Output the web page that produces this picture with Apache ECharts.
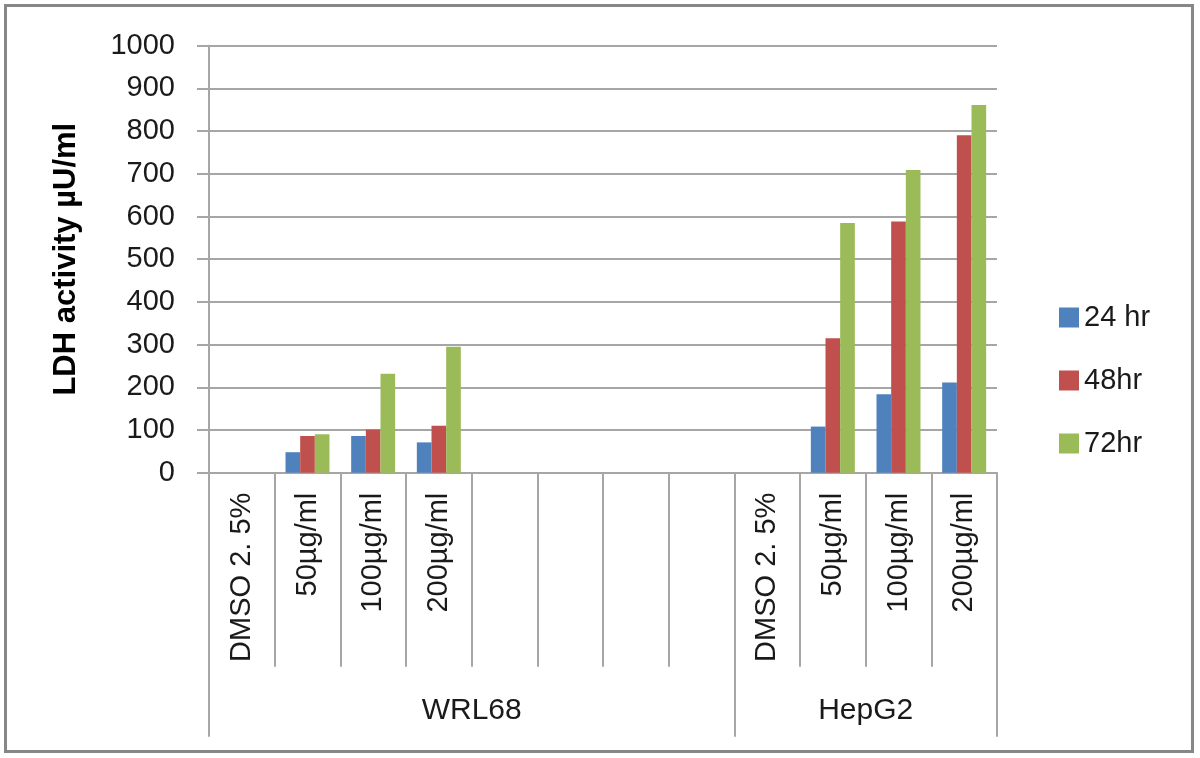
<!DOCTYPE html>
<html>
<head>
<meta charset="utf-8">
<script src="https://cdn.jsdelivr.net/npm/echarts@6/dist/echarts.min.js"></script>
<style>
  html, body { margin: 0; padding: 0; background: #fff; }
  #chart { width: 1200px; height: 758px; }
  #frame { position: absolute; left: 4px; top: 4px; width: 1184px; height: 743px; border: 3px solid #878787; pointer-events: none; }
</style>
</head>
<body>
<div id="chart"></div>
<div id="frame"></div>
<script>
// ---- data ----
const categories = ['DMSO 2. 5%', '50µg/ml', '100µg/ml', '200µg/ml', '', '', '', '',
                    'DMSO 2. 5%', '50µg/ml', '100µg/ml', '200µg/ml'];
const groupNames = ['WRL68', 'HepG2'];
const groupSizes = [8, 4];
const seriesNames = ['24 hr', '48hr', '72hr'];
const hr24 = [0, 48, 86, 71, null, null, null, null, 0, 108, 184, 211];
const hr48 = [0, 86, 101, 110, null, null, null, null, 0, 315, 588, 790];
const hr72 = [0, 90, 232, 295, null, null, null, null, 0, 585, 709, 861];
const yTicks = [0, 100, 200, 300, 400, 500, 600, 700, 800, 900, 1000];
const yTitle = 'LDH activity µU/ml';

// ---- derived group positions ----
const groupBounds = [0];
groupSizes.forEach(s => groupBounds.push(groupBounds[groupBounds.length - 1] + s));
const groupCenters = groupNames.map((n, i) => (groupBounds[i] + groupBounds[i + 1]) / 2);

const colors = ['#4F81BD', '#C0504D', '#9BBB59'];
const gray = '#A6A6A6';
const textColor = '#1a1a1a';
const font = 'Liberation Sans, Arial, sans-serif';

const chart = echarts.init(document.getElementById('chart'));
chart.setOption({
  animation: false,
  color: colors,
  grid: { left: 209, right: 203, top: 45.7, bottom: 285.3, containLabel: false },
  legend: {
    orient: 'vertical',
    left: 1054,
    top: 298,
    itemWidth: 20,
    itemHeight: 20,
    itemGap: 34,
    itemTextGap: 9,
    icon: 'rect',
    textStyle: { fontSize: 29, color: textColor, fontFamily: font },
    data: seriesNames
  },
  xAxis: [
    {
      type: 'category',
      data: categories,
      boundaryGap: true,
      axisLine: { show: true, lineStyle: { color: gray, width: 2 } },
      axisTick: { show: true, interval: 0, length: 194, lineStyle: { color: gray, width: 2 } },
      axisLabel: { interval: 0, rotate: 90, margin: 20, fontSize: 29, color: textColor, fontFamily: font },
      splitLine: { show: false }
    },
    {
      type: 'value',
      position: 'bottom',
      min: groupBounds[0],
      max: groupBounds[groupBounds.length - 1],
      axisLine: { show: false },
      splitLine: { show: false },
      axisTick: { show: true, customValues: groupBounds, length: 264, lineStyle: { color: gray, width: 2 } },
      axisLabel: {
        customValues: groupCenters,
        margin: 223,
        fontSize: 30,
        color: textColor,
        fontFamily: font,
        formatter: v => {
          const i = groupCenters.indexOf(v);
          return i >= 0 ? groupNames[i] : '';
        }
      }
    }
  ],
  yAxis: {
    type: 'value',
    min: yTicks[0],
    max: yTicks[yTicks.length - 1],
    interval: yTicks[1] - yTicks[0],
    name: yTitle,
    nameLocation: 'middle',
    nameGap: 127,
    nameTextStyle: { fontSize: 31, fontWeight: 'bold', color: '#000', fontFamily: font },
    axisLine: { show: true, lineStyle: { color: gray, width: 2 } },
    axisTick: { show: true, length: 12, lineStyle: { color: gray, width: 2 } },
    axisLabel: { margin: 34, fontSize: 29, color: textColor, fontFamily: font, formatter: v => String(v) },
    splitLine: { show: true, lineStyle: { color: gray, width: 2 } }
  },
  series: [
    { name: seriesNames[0], type: 'bar', data: hr24, barGap: '0%', barCategoryGap: '33%' },
    { name: seriesNames[1], type: 'bar', data: hr48, barGap: '0%', barCategoryGap: '33%' },
    { name: seriesNames[2], type: 'bar', data: hr72, barGap: '0%', barCategoryGap: '33%' }
  ]
});
</script>
</body>
</html>
